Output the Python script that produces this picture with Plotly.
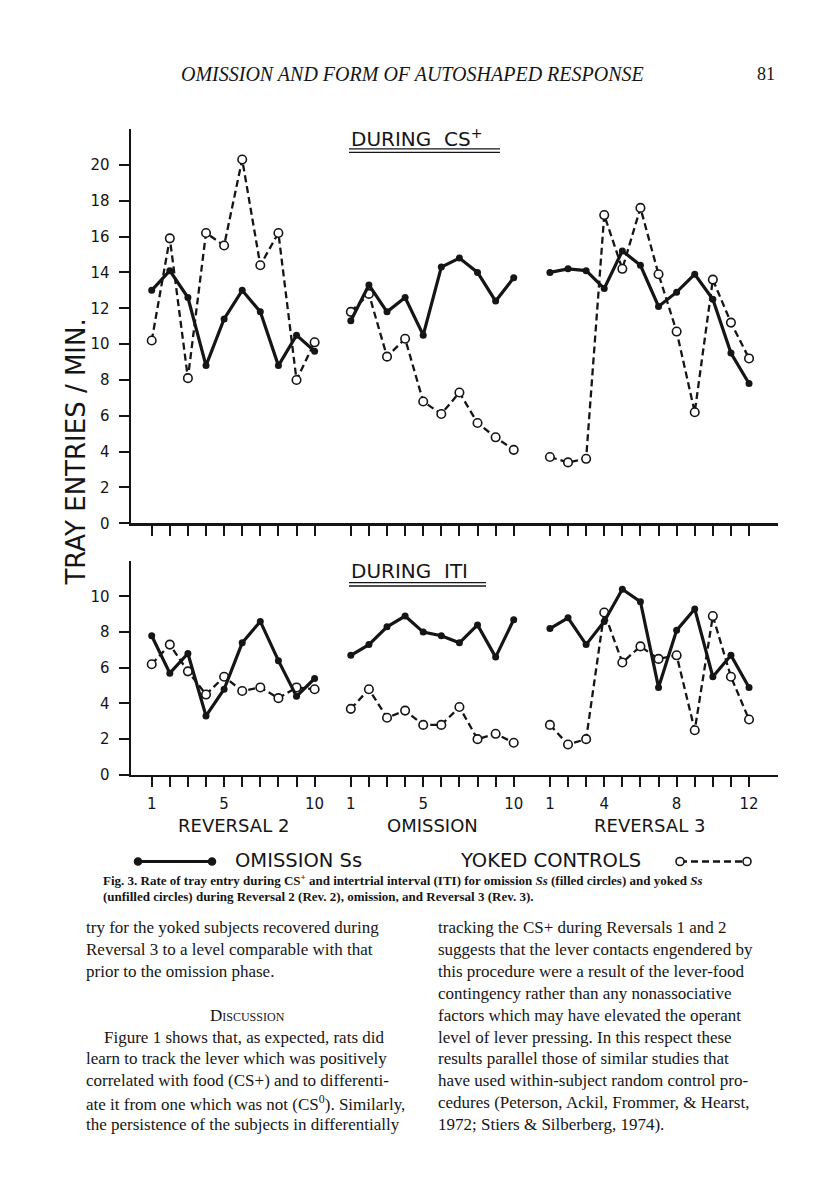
import plotly.graph_objects as go

# ---------------- data ----------------
phase_names = ["REVERSAL 2", "OMISSION", "REVERSAL 3"]
phase_sessions = [list(range(1, 11)), list(range(1, 11)), list(range(1, 13))]
phase_offsets = [0, 11, 22]
phase_tick_labels = [[1, 5, 10], [1, 5, 10], [1, 4, 8, 12]]

# During CS+ (tray entries / min)
cs_omission_rev2 = [13.0, 14.1, 12.6, 8.8, 11.4, 13.0, 11.8, 8.8, 10.5, 9.6]
cs_yoked_rev2 = [10.2, 15.9, 8.1, 16.2, 15.5, 20.3, 14.4, 16.2, 8.0, 10.1]
cs_omission_omis = [11.3, 13.3, 11.8, 12.6, 10.5, 14.3, 14.8, 14.0, 12.4, 13.7]
cs_yoked_omis = [11.8, 12.8, 9.3, 10.3, 6.8, 6.1, 7.3, 5.6, 4.8, 4.1]
cs_omission_rev3 = [14.0, 14.2, 14.1, 13.1, 15.2, 14.4, 12.1, 12.9, 13.9, 12.5, 9.5, 7.8]
cs_yoked_rev3 = [3.7, 3.4, 3.6, 17.2, 14.2, 17.6, 13.9, 10.7, 6.2, 13.6, 11.2, 9.2]

# During ITI (tray entries / min)
iti_omission_rev2 = [7.8, 5.7, 6.8, 3.3, 4.8, 7.4, 8.6, 6.4, 4.4, 5.4]
iti_yoked_rev2 = [6.2, 7.3, 5.8, 4.5, 5.5, 4.7, 4.9, 4.3, 4.9, 4.8]
iti_omission_omis = [6.7, 7.3, 8.3, 8.9, 8.0, 7.8, 7.4, 8.4, 6.6, 8.7]
iti_yoked_omis = [3.7, 4.8, 3.2, 3.6, 2.8, 2.8, 3.8, 2.0, 2.3, 1.8]
iti_omission_rev3 = [8.2, 8.8, 7.3, 8.6, 10.4, 9.7, 4.9, 8.1, 9.3, 5.5, 6.7, 4.9]
iti_yoked_rev3 = [2.8, 1.7, 2.0, 9.1, 6.3, 7.2, 6.5, 6.7, 2.5, 8.9, 5.5, 3.1]

cs_ticks = [0, 2, 4, 6, 8, 10, 12, 14, 16, 18, 20]
iti_ticks = [0, 2, 4, 6, 8, 10]

header_text = "OMISSION AND FORM OF AUTOSHAPED RESPONSE"
page_number = "81"
caption_lines = [
    "<b>Fig. 3. Rate of tray entry during CS<sup>+</sup> and intertrial interval (ITI) for omission <i>Ss</i> (filled circles) and yoked <i>Ss</i></b>",
    "<b>(unfilled circles) during Reversal 2 (Rev. 2), omission, and Reversal 3 (Rev. 3).</b>",
]
left_column = [
    "try for the yoked subjects recovered during",
    "Reversal 3 to a level comparable with that",
    "prior to the omission phase.",
    "",
    None,  # heading
    "    Figure 1 shows that, as expected, rats did",
    "learn to track the lever which was positively",
    "correlated with food (CS+) and to differenti-",
    "ate it from one which was not (CS<sup>0</sup>). Similarly,",
    "the persistence of the subjects in differentially",
]
right_column = [
    "tracking the CS+ during Reversals 1 and 2",
    "suggests that the lever contacts engendered by",
    "this procedure were a result of the lever-food",
    "contingency rather than any nonassociative",
    "factors which may have elevated the operant",
    "level of lever pressing. In this respect these",
    "results parallel those of similar studies that",
    "have used within-subject random control pro-",
    "cedures (Peterson, Ackil, Frommer, & Hearst,",
    "1972; Stiers & Silberberg, 1974).",
]

# ---------------- helpers ----------------
W, H = 816, 1200
def px(x):
    return x / W
def py(y):
    return 1 - y / H

SANS = "DejaVu Sans"
SERIF = "Liberation Serif"
INK = "#151515"

def joined(series_by_phase):
    xs, ys = [], []
    for k, (sess, vals) in enumerate(zip(phase_sessions, series_by_phase)):
        if k:
            xs.append(None); ys.append(None)
        xs += [s + phase_offsets[k] for s in sess]
        ys += vals
    return xs, ys

tick_positions, tick_text = [], []
for k, sess in enumerate(phase_sessions):
    for s in sess:
        tick_positions.append(s + phase_offsets[k])
        tick_text.append(str(s) if s in phase_tick_labels[k] else "")

fig = go.Figure()

panels = [
    ("x", "y", [cs_omission_rev2, cs_omission_omis, cs_omission_rev3],
     [cs_yoked_rev2, cs_yoked_omis, cs_yoked_rev3]),
    ("x2", "y2", [iti_omission_rev2, iti_omission_omis, iti_omission_rev3],
     [iti_yoked_rev2, iti_yoked_omis, iti_yoked_rev3]),
]
for xa, ya, omis, yoked in panels:
    xs, ys = joined(yoked)
    fig.add_trace(go.Scatter(
        x=xs, y=ys, xaxis=xa, yaxis=ya, mode="lines+markers", name="YOKED CONTROLS",
        line=dict(color=INK, width=2.3, dash="7px,4px"),
        marker=dict(symbol="circle", size=8.5, color="white", line=dict(color=INK, width=1.6)),
        showlegend=False, connectgaps=False, hoverinfo="skip"))
    xs, ys = joined(omis)
    fig.add_trace(go.Scatter(
        x=xs, y=ys, xaxis=xa, yaxis=ya, mode="lines+markers", name="OMISSION Ss",
        line=dict(color=INK, width=3.2),
        marker=dict(symbol="circle", size=7, color=INK),
        showlegend=False, connectgaps=False, hoverinfo="skip"))

x_range = [-0.144, 35.6]
x_domain = [px(131), px(778)]
common_x = dict(range=x_range, domain=x_domain, showline=True, linewidth=2.5, linecolor=INK,
                ticks="outside", ticklen=10, tickwidth=2, tickcolor=INK,
                tickvals=tick_positions, showgrid=False, zeroline=False,
                tickfont=dict(family=SANS, size=15, color=INK))
common_y = dict(showline=True, linewidth=2.5, linecolor=INK, ticks="outside", ticklen=10,
                tickwidth=2, tickcolor=INK, showgrid=False, zeroline=False,
                tickfont=dict(family=SANS, size=15, color=INK), ticklabelstandoff=6)

fig.update_layout(
    width=W, height=H, margin=dict(l=0, r=0, t=0, b=0),
    paper_bgcolor="white", plot_bgcolor="white", showlegend=False, hovermode=False,
    xaxis=dict(anchor="y", showticklabels=False, ticktext=tick_text, **common_x),
    yaxis=dict(anchor="x", domain=[py(527.3), py(130)], range=[0, 22], tickvals=cs_ticks, **common_y),
    xaxis2=dict(anchor="y2", ticktext=tick_text, ticklabelstandoff=4, **common_x),
    yaxis2=dict(anchor="x2", domain=[py(780.7), py(565)], range=[0, 12], tickvals=iti_ticks, **common_y),
)

def note(x, y, text, size, family=SANS, xanchor="center", **kw):
    d = dict(x=px(x), y=py(y), xref="paper", yref="paper", text=text, showarrow=False,
             xanchor=xanchor, yanchor="middle", font=dict(family=family, size=size, color=INK))
    d.update(kw)
    return d

ann = []
# section labels under the phases
for k, name in enumerate(phase_names):
    sess = phase_sessions[k]
    ann.append(dict(x=(sess[0] + sess[-1]) / 2 + phase_offsets[k], xref="x2", y=py(832), yref="paper",
                    xanchor="center", yanchor="middle",
                    text=name, showarrow=False, font=dict(family=SANS, size=18, color=INK)))
# y title
ann.append(note(76, 456, "TRAY ENTRIES / MIN.", 26, textangle=-90))
# panel titles
ann.append(note(349, 139, "DURING  CS<sup>+</sup>", 20, xanchor="left"))
ann.append(note(349, 575, "DURING  ITI", 20, xanchor="left"))
# legend text
ann.append(note(233, 867, "OMISSION Ss", 19.5, xanchor="left"))
ann.append(note(458, 867, "YOKED CONTROLS", 19.5, xanchor="left"))
# header
ann.append(note(412, 75, "<i>" + header_text + "</i>", 20, family=SERIF))
ann.append(note(766, 75, page_number, 18, family=SERIF))
# caption
for i, line in enumerate(caption_lines):
    ann.append(note(101, 887 + 16.5 * i, line, 13, family=SERIF, xanchor="left"))
# body text
for i, line in enumerate(left_column):
    yy = 935 + 22 * i
    if line is None:
        ann.append(dict(x=px(248), y=py(yy), xref="paper", yref="paper", text="Discussion",
                        xanchor="center", yanchor="middle", showarrow=False,
                        font=dict(family=SERIF, size=17, color=INK, variant="small-caps")))
    elif line:
        indent = 18 if line.startswith("    ") else 0
        ann.append(note(84 + indent, yy, line.strip(), 17, family=SERIF, xanchor="left"))
for i, line in enumerate(right_column):
    ann.append(note(436, 935 + 22 * i, line, 17, family=SERIF, xanchor="left"))
fig.update_layout(annotations=ann)

# decorations: double underlines and legend samples
shapes = []
for y0, x0, x1 in [(150, 349, 500), (587, 349, 486)]:
    for dy in (0, 3.5):
        shapes.append(dict(type="line", xref="paper", yref="paper", x0=px(x0), x1=px(x1),
                           y0=py(y0 + dy), y1=py(y0 + dy), line=dict(color=INK, width=1.4)))
shapes.append(dict(type="line", xref="paper", yref="paper", x0=px(138), x1=px(212),
                   y0=py(868), y1=py(868), line=dict(color=INK, width=3)))
shapes.append(dict(type="line", xref="paper", yref="paper", x0=px(680), x1=px(747),
                   y0=py(868), y1=py(868), line=dict(color=INK, width=2.3, dash="7px,4px")))
for cx, filled in [(138, True), (212, True), (680, False), (747, False)]:
    r = 3.5 if filled else 4
    shapes.append(dict(type="circle", xref="paper", yref="paper", xsizemode="pixel", ysizemode="pixel",
                       xanchor=px(cx), yanchor=py(868), x0=-r, x1=r, y0=-r, y1=r,
                       fillcolor=INK if filled else "white", line=dict(color=INK, width=1.6)))
fig.update_layout(shapes=shapes)

# remove the default page margin so the figure sits at the window origin
fig.write_html("out.html", config={"displayModeBar": False, "staticPlot": True},
               post_script="document.body.style.margin='0';")
